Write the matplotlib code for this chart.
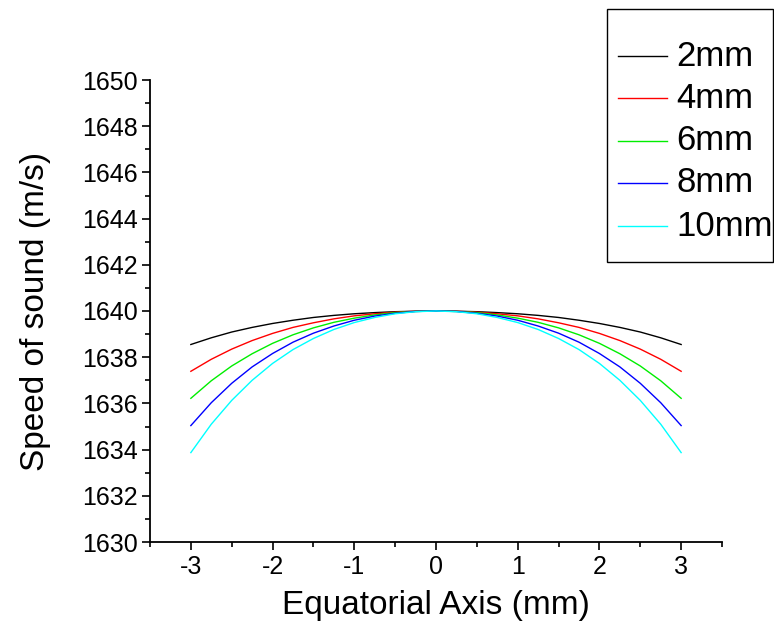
# Speed of sound along the equatorial axis, for several lens sizes.

import matplotlib
matplotlib.use("Agg")
import matplotlib.pyplot as plt
from matplotlib.lines import Line2D
from matplotlib.patches import Rectangle
from matplotlib.ticker import MultipleLocator


plt.rcParams['font.family'] = ['Liberation Sans', 'DejaVu Sans']
plt.rcParams['axes.unicode_minus'] = False

# position on the equatorial axis (mm)
x_mm = [-3.0, -2.75, -2.5, -2.25, -2.0, -1.75, -1.5, -1.25, -1.0, -0.75, -0.5, -0.25, 0.0,
        0.25, 0.5, 0.75, 1.0, 1.25, 1.5, 1.75, 2.0, 2.25, 2.5, 2.75, 3.0]

labels = ["2mm", "4mm", "6mm", "8mm", "10mm"]
colors = ["black", "#ff0000", "#00ee00", "#0000ff", "#00ffff"]

speed_2mm = [1638.55, 1638.84, 1639.09, 1639.29, 1639.46, 1639.60, 1639.72, 1639.81, 1639.88,
             1639.93, 1639.97, 1639.99, 1640.00, 1639.99, 1639.97, 1639.93, 1639.88, 1639.81,
             1639.72, 1639.60, 1639.46, 1639.29, 1639.09, 1638.84, 1638.55]
speed_4mm = [1637.39, 1637.91, 1638.35, 1638.72, 1639.03, 1639.29, 1639.49, 1639.66, 1639.79,
             1639.88, 1639.95, 1639.99, 1640.00, 1639.99, 1639.95, 1639.88, 1639.79, 1639.66,
             1639.49, 1639.29, 1639.03, 1638.72, 1638.35, 1637.91, 1637.39]
speed_6mm = [1636.22, 1636.98, 1637.62, 1638.15, 1638.60, 1638.97, 1639.27, 1639.51, 1639.69,
             1639.83, 1639.93, 1639.98, 1640.00, 1639.98, 1639.93, 1639.83, 1639.69, 1639.51,
             1639.27, 1638.97, 1638.60, 1638.15, 1637.62, 1636.98, 1636.22]
speed_8mm = [1635.04, 1636.03, 1636.87, 1637.58, 1638.16, 1638.65, 1639.04, 1639.35, 1639.60,
             1639.78, 1639.90, 1639.98, 1640.00, 1639.98, 1639.90, 1639.78, 1639.60, 1639.35,
             1639.04, 1638.65, 1638.16, 1637.58, 1636.87, 1636.03, 1635.04]
speed_10mm = [1633.87, 1635.10, 1636.13, 1637.00, 1637.73, 1638.33, 1638.81, 1639.20, 1639.50,
              1639.72, 1639.88, 1639.97, 1640.00, 1639.97, 1639.88, 1639.72, 1639.50, 1639.20,
              1638.81, 1638.33, 1637.73, 1637.00, 1636.13, 1635.10, 1633.87]

series = [speed_2mm, speed_4mm, speed_6mm, speed_8mm, speed_10mm]

W, H = 774, 634


def px(x, y):
  # figure pixels (from top-left) -> figure fraction
  return x / W, 1 - y / H


fig = plt.figure(figsize=(W/100, H/100), dpi=100)
ax = fig.add_axes([150/W, 1 - 542/H, 572/W, 462/H])

for y, lab, col in zip(series, labels, colors):
  ax.plot(x_mm, y, color=col, lw=1.0, label=lab)

ax.set_xlim(-3.5, 3.5)
ax.set_ylim(1630, 1650)
ax.xaxis.set_major_locator(MultipleLocator(1))
ax.xaxis.set_minor_locator(MultipleLocator(0.5))
ax.yaxis.set_major_locator(MultipleLocator(2))
ax.yaxis.set_minor_locator(MultipleLocator(1))

for side in ["top", "right"]:
  ax.spines[side].set_visible(False)
for side in ["left", "bottom"]:
  ax.spines[side].set_linewidth(1.3)

ax.tick_params(which="major", direction="out", length=6, width=1.2, labelsize=18, pad=3)
ax.tick_params(which="minor", direction="out", length=3.5, width=1.2)

ax.set_xlabel("Equatorial Axis (mm)", fontsize=24, labelpad=8)
ax.set_ylabel("Speed of sound (m/s)", fontsize=24, labelpad=22)

# legend box, drawn by hand so it can sit against the right edge like the original
x0, y0 = px(607, 262)
x1, y1 = px(773, 9)
fig.add_artist(Rectangle((x0, y0), x1 - x0, y1 - y0, transform=fig.transFigure,
                         fill=False, edgecolor="black", lw=1.0))
row_y = [56, 98, 141, 183, 226]
for ry, lab, col in zip(row_y, labels, colors):
  hx0, hy = px(618, ry)
  hx1, _ = px(667, ry)
  fig.add_artist(Line2D([hx0, hx1], [hy, hy], transform=fig.transFigure, color=col, lw=1.0))
  tx, _ = px(676, ry)
  fig.text(tx, hy, lab, fontsize=25, va="center", ha="left")

fig.savefig("out.png", dpi=100)
